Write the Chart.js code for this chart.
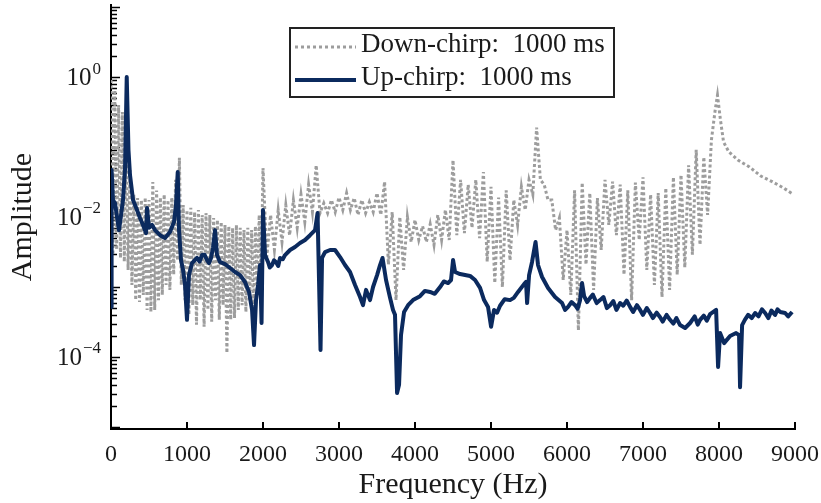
<!DOCTYPE html>
<html>
<head>
<meta charset="utf-8">
<script src="https://cdn.jsdelivr.net/npm/chart.js@4.4.1/dist/chart.umd.min.js"></script>
<style>
  html, body { margin: 0; padding: 0; background: #fff; }
  #wrap { width: 821px; height: 503px; }
</style>
</head>
<body>
<div id="wrap"><canvas id="myChart"></canvas></div>
<script>
// frequency in Hz, amplitude on a log axis
const seriesNames = ["Down-chirp:  1000 ms", "Up-chirp:  1000 ms"];
const xTicks = [0, 1000, 2000, 3000, 4000, 5000, 6000, 7000, 8000, 9000];
const yLabelExps = [0, -2, -4];

const downFreq = [
  0, 25, 50, 75, 100, 125, 150, 175, 200, 225,
  250, 275, 300, 325, 350, 375, 400, 425, 450, 475,
  500, 525, 550, 575, 600, 625, 650, 675, 700, 725,
  750, 775, 800, 825, 850, 875, 900, 925, 950, 975,
  1000, 1025, 1050, 1075, 1100, 1125, 1150, 1175, 1200, 1225,
  1250, 1275, 1300, 1325, 1350, 1375, 1400, 1425, 1450, 1475,
  1500, 1525, 1550, 1575, 1600, 1625, 1650, 1675, 1700, 1725,
  1750, 1775, 1800, 1825, 1850, 1875, 1900, 1925, 1950, 1975,
  2000, 2050, 2100, 2150, 2200, 2250, 2300, 2350, 2400, 2450,
  2500, 2550, 2600, 2650, 2700, 2750, 2800, 2850, 2900, 2950,
  3000, 3050, 3100, 3150, 3200, 3250, 3300, 3350, 3400, 3450,
  3500, 3550, 3600, 3650, 3700, 3750, 3800, 3850, 3900, 3950,
  4000, 4050, 4100, 4150, 4200, 4250, 4300, 4350, 4400, 4450,
  4500, 4550, 4600, 4650, 4700, 4750, 4800, 4850, 4900, 4950,
  5000, 5050, 5100, 5150, 5200, 5250, 5300, 5350, 5400, 5450,
  5500, 5550, 5600, 5650, 5700, 5750, 5800, 5850, 5900, 5950,
  6000, 6050, 6100, 6150, 6200, 6250, 6300, 6350, 6400, 6450,
  6500, 6550, 6600, 6650, 6700, 6750, 6800, 6850, 6900, 6950,
  7000, 7050, 7100, 7150, 7200, 7250, 7300, 7350, 7400, 7450,
  7500, 7550, 7600, 7650, 7700, 7750, 7800, 7850, 7900,
  7950, 7980, 8020, 8060, 8130, 8250, 8400, 8550, 8700, 8850, 8980
];
const downAmp = [
  0.91, 0.0029, 0.65, 0.0034, 0.40, 0.0026, 0.316, 0.0023, 0.175, 0.00175,
  0.047, 0.00107, 0.021, 0.00065, 0.0187, 0.00061, 0.0175, 0.00077, 0.019, 0.00047,
  0.0175, 0.00044, 0.0316, 0.00047, 0.024, 0.00065, 0.019, 0.00077, 0.021, 0.00107,
  0.0175, 0.00091, 0.019, 0.0015, 0.034, 0.0024, 0.070, 0.00107, 0.0148, 0.00065,
  0.0126, 0.00040, 0.0135, 0.00055, 0.0118, 0.00029, 0.0126, 0.00065, 0.0107, 0.00027,
  0.0114, 0.00047, 0.0107, 0.00032, 0.0097, 0.00065, 0.0091, 0.00034, 0.0085, 0.00055,
  0.0077, 0.000114, 0.0074, 0.00034, 0.0070, 0.00036, 0.0077, 0.00047, 0.0070, 0.00055,
  0.0065, 0.00044, 0.0070, 0.00065, 0.0065, 0.00047, 0.0074, 0.00077, 0.0107, 0.00126,
  0.050, 0.0027, 0.0107, 0.0034, 0.0126, 0.0044, 0.0148, 0.0055, 0.0175, 0.0070,
  0.021, 0.0085, 0.029, 0.0118, 0.055, 0.0114, 0.0158, 0.0114, 0.0175, 0.0118,
  0.019, 0.0126, 0.022, 0.0126, 0.0187, 0.0107, 0.0175, 0.0114, 0.0164, 0.0118,
  0.022, 0.0107, 0.032, 0.0021, 0.0118, 0.00065, 0.0100, 0.00175, 0.0100, 0.0044,
  0.0091, 0.0047, 0.0074, 0.0044, 0.0079, 0.0040, 0.0107, 0.0047, 0.0126, 0.0047,
  0.065, 0.0055, 0.034, 0.0059, 0.029, 0.0070, 0.034, 0.0050, 0.044, 0.0023,
  0.027, 0.00114, 0.019, 0.0010, 0.024, 0.0024, 0.0175, 0.0077, 0.027, 0.0126,
  0.034, 0.021, 0.19, 0.034, 0.029, 0.0175, 0.0175, 0.0065, 0.0097, 0.00126,
  0.0065, 0.00077, 0.024, 0.00024, 0.031, 0.0021, 0.022, 0.00091, 0.0187, 0.0034,
  0.034, 0.0077, 0.032, 0.0055, 0.029, 0.0015, 0.024, 0.00065, 0.031, 0.0047,
  0.037, 0.00175, 0.021, 0.00107, 0.022, 0.00072, 0.026, 0.00091, 0.037, 0.0015,
  0.040, 0.0019, 0.055, 0.0029, 0.091, 0.0040, 0.072, 0.0107, 0.126,
  0.34, 0.55, 0.24, 0.118, 0.085, 0.065, 0.052, 0.0385, 0.032, 0.026, 0.021
];

const upFreq = [
  0, 8, 26, 53, 79, 105, 132, 158, 184, 207,
  230, 250, 290, 342, 382, 421, 461, 474, 500, 540,
  579, 645, 711, 776, 829, 855, 878, 895, 921, 948,
  974, 1000, 1026, 1066, 1132, 1198, 1263, 1316, 1342, 1369,
  1395, 1434, 1500, 1566, 1632, 1698, 1763, 1816, 1856, 1882,
  1908, 1935, 1961, 1981, 2000, 2027, 2066, 2119, 2171, 2224,
  2290, 2356, 2421, 2487, 2553, 2619, 2685, 2718, 2757, 2777,
  2816, 2882, 2948, 3014, 3079, 3145, 3211, 3277, 3316, 3356,
  3408, 3448, 3501, 3540, 3573, 3619, 3672, 3711, 3737, 3764,
  3790, 3816, 3856, 3909, 3974, 4066, 4198, 4330, 4435, 4474,
  4501, 4527, 4593, 4724, 4790, 4856, 4909, 4961, 5001, 5040,
  5119, 5251, 5356, 5435, 5461, 5475, 5501, 5540, 5586, 5619,
  5672, 5751, 5843, 5935, 6014, 6106, 6172, 6198, 6225, 6304,
  6435, 6567, 6699, 6830, 6962, 7093, 7225, 7356, 7488, 7554,
  7620, 7751, 7883, 7962, 7988, 8014, 8067, 8146, 8225, 8264,
  8277, 8304, 8383, 8475, 8607, 8738, 8804, 8870, 8962
];
const upAmp = [
  5.2e-4, 0.047, 0.0175, 0.0158, 0.010, 6.5e-3, 0.0107, 0.0175, 0.047, 1.0,
  0.0906, 0.0398, 0.0175, 0.0126, 0.0097, 7.7e-3, 5.9e-3, 0.0135, 7.0e-3, 7.7e-3,
  6.5e-3, 5.5e-3, 5.0e-3, 6.1e-3, 8.5e-3, 0.0148, 0.044, 6.5e-3, 2.43e-3, 1.75e-3,
  1.07e-3, 3.4e-4, 1.48e-3, 2.2e-3, 2.6e-3, 2.86e-3, 2.43e-3, 2.6e-3, 3.6e-3, 6.5e-3,
  2.86e-3, 2.28e-3, 2.13e-3, 1.87e-3, 1.64e-3, 1.48e-3, 1.18e-3, 8.5e-4, 4.7e-4, 1.48e-4,
  6.5e-4, 1.07e-3, 2.06e-3, 3.06e-4, 0.0126, 2.86e-3, 2.28e-3, 2.06e-3, 2.28e-3, 2.6e-3,
  2.86e-3, 3.38e-3, 3.73e-3, 4.25e-3, 4.7e-3, 5.5e-3, 6.5e-3, 0.0114, 1.26e-4, 2.6e-3,
  3.16e-3, 3.38e-3, 3.38e-3, 2.68e-3, 2.06e-3, 1.64e-3, 1.07e-3, 7.2e-4, 5.5e-4, 9.1e-4,
  6.5e-4, 1.0e-3, 1.48e-3, 2.06e-3, 2.6e-3, 1.26e-3, 7.0e-4, 4.7e-4, 4.0e-4, 3.06e-5,
  4.0e-5, 2.06e-4, 4.4e-4, 5.5e-4, 6.5e-4, 7.4e-4, 8.5e-4, 1.0e-3, 1.14e-3, 1.26e-3,
  2.43e-3, 1.64e-3, 1.53e-3, 1.44e-3, 1.26e-3, 9.7e-4, 6.5e-4, 5.2e-4, 2.7e-4, 4.7e-4,
  5.4e-4, 6.5e-4, 8.5e-4, 1.1e-3, 1.18e-3, 5.9e-4, 1.48e-3, 2.28e-3, 4.4e-3, 2.06e-3,
  1.39e-3, 9.7e-4, 7.2e-4, 5.9e-4, 5.2e-4, 5.5e-4, 6.5e-4, 1.14e-3, 7.4e-4, 7.0e-4,
  6.5e-4, 5.5e-4, 5.9e-4, 5.2e-4, 4.7e-4, 4.25e-4, 3.7e-4, 3.4e-4, 2.86e-4, 2.6e-4,
  3.06e-4, 3.4e-4, 4.1e-4, 4.7e-4, 7.2e-5, 2.2e-4, 1.58e-4, 2.0e-4, 2.2e-4, 2.06e-4,
  3.7e-5, 2.86e-4, 4.0e-4, 4.25e-4, 4.25e-4, 4.0e-4, 4.4e-4, 4.25e-4, 4.4e-4
];
// extra wiggles of the up-chirp trace (the fuzzy band)
const upJitterFreq = [
  1165, 1230, 1290, 2090, 2145, 2200, 2260, 4130, 4260, 4380,
  5080, 5180, 5300, 5975, 6060, 6140, 6265, 6340, 6390, 6480,
  6525, 6610, 6650, 6740, 6785, 6870, 6920, 7000, 7050, 7130,
  7180, 7260, 7310, 7400, 7440, 7680, 7720, 7800, 7840, 8340,
  8430, 8520, 8565, 8650, 8690, 8770, 8910
];
const upJitterAmp = [
  2.3e-3, 2.9e-3, 2.2e-3, 1.9e-3, 2.4e-3, 2.0e-3, 2.5e-3, 8.8e-4, 8.0e-4, 1.2e-3,
  4.3e-4, 6.7e-4, 7.0e-4, 4.7e-4, 6.1e-4, 4.9e-4, 6.1e-4, 7.8e-4, 5.9e-4, 7.2e-4,
  5.0e-4, 6.3e-4, 4.7e-4, 5.4e-4, 6.4e-4, 4.4e-4, 5.5e-4, 4.0e-4, 5.0e-4, 3.6e-4,
  4.3e-4, 3.2e-4, 4.0e-4, 3.0e-4, 3.6e-4, 3.8e-4, 2.9e-4, 3.9e-4, 3.3e-4, 3.4e-4,
  3.6e-4, 3.8e-4, 4.8e-4, 3.6e-4, 4.6e-4, 4.8e-4, 3.8e-4
];

const serif = '"Liberation Serif", "Times New Roman", serif';
const textColor = "#1a1a1a";
const grayColor = "#9d9d9d";
const navyColor = "#0b2a5e";

function toPoints(xs, ys) {
  return xs.map((x, i) => ({ x: x, y: ys[i] }));
}

const upPoints = toPoints(upFreq, upAmp)
  .concat(toPoints(upJitterFreq, upJitterAmp))
  .sort((a, b) => a.x - b.x);

// inward tick marks, like the original axes
const axisMarks = {
  id: "axisMarks",
  beforeDatasetsDraw(chart) {
    const ctx = chart.ctx;
    const xs = chart.scales.x, ys = chart.scales.y;
    const area = chart.chartArea;
    ctx.save();
    ctx.strokeStyle = "#000";
    ctx.lineWidth = 1.5;
    for (let d = -6; d <= 1; d++) {
      for (let k = 1; k <= 9; k++) {
        const v = k * Math.pow(10, d);
        if (v < ys.min || v > ys.max) continue;
        const py = Math.round(ys.getPixelForValue(v)) + 0.5;
        ctx.beginPath();
        ctx.moveTo(area.left, py);
        ctx.lineTo(area.left + (k === 1 ? 9 : 6), py);
        ctx.stroke();
      }
    }
    ctx.lineWidth = 2;
    xTicks.forEach(v => {
      const px = xs.getPixelForValue(v);
      ctx.beginPath();
      ctx.moveTo(px, area.bottom);
      ctx.lineTo(px, area.bottom - 7);
      ctx.stroke();
    });
    ctx.restore();
  },
  afterDraw(chart) {
    const ctx = chart.ctx;
    const ys = chart.scales.y;
    const area = chart.chartArea;
    ctx.save();
    ctx.fillStyle = textColor;
    ctx.textBaseline = "middle";
    yLabelExps.forEach(e => {
      const py = ys.getPixelForValue(Math.pow(10, e));
      const expTxt = e === 0 ? "0" : "\u2212" + (-e);
      ctx.font = "17px " + serif;
      const w = ctx.measureText(expTxt).width;
      const right = area.left - 10;
      ctx.textAlign = "left";
      ctx.fillText(expTxt, right - w, py - 8);
      ctx.font = "25px " + serif;
      ctx.textAlign = "right";
      ctx.fillText("10", right - w - 1, py + 1);
    });

    // legend box
    const bx = 290, by = 28, bw = 324, bh = 69;
    ctx.fillStyle = "#fff";
    ctx.fillRect(bx, by, bw, bh);
    ctx.strokeStyle = "#222";
    ctx.lineWidth = 2;
    ctx.strokeRect(bx, by, bw, bh);

    const rows = [
      { y: by + 17, color: grayColor, dash: [3, 3], width: 3 },
      { y: by + 50, color: navyColor, dash: [], width: 4 }
    ];
    rows.forEach((r, i) => {
      ctx.beginPath();
      ctx.setLineDash(r.dash);
      ctx.strokeStyle = r.color;
      ctx.lineWidth = r.width;
      ctx.moveTo(bx + 5, r.y + 2);
      ctx.lineTo(bx + 66, r.y + 2);
      ctx.stroke();
      ctx.setLineDash([]);
      ctx.fillStyle = textColor;
      ctx.font = "27px " + serif;
      ctx.textAlign = "left";
      ctx.textBaseline = "middle";
      ctx.fillText(seriesNames[i], bx + 71, r.y);
    });
    ctx.restore();
  }
};

let ctx = document.getElementById("myChart");

let chart = new Chart(ctx, {
  type: "line",
  data: {
    datasets: [
      {
        label: seriesNames[1],
        data: upPoints,
        borderColor: navyColor,
        borderWidth: 4,
        pointRadius: 0,
        tension: 0,
        borderJoinStyle: "round",
      },
      {
        label: seriesNames[0],
        data: toPoints(downFreq, downAmp),
        borderColor: grayColor,
        borderWidth: 3,
        borderDash: [3, 2.5],
        pointRadius: 0,
        tension: 0,
      },
    ],
  },
  options: {
    responsive: true,
    maintainAspectRatio: false,
    animation: false,
    layout: { padding: { top: 5, right: 26, left: 0, bottom: 0 } },
    plugins: { legend: { display: false }, tooltip: { enabled: false } },
    scales: {
      x: {
        type: "linear",
        min: 0,
        max: 9000,
        afterFit: (s) => { s.height = 74; s.paddingRight = 0; s.paddingLeft = 0; },
        afterBuildTicks: (s) => { s.ticks = xTicks.map(v => ({ value: v })); },
        grid: { display: false, drawTicks: false },
        border: { display: true, color: "#000", width: 2 },
        ticks: {
          font: { family: serif, size: 24 },
          color: textColor,
          padding: 11,
          maxRotation: 0,
          autoSkip: false,
          callback: (v) => String(v),
        },
        title: {
          display: true,
          text: "Frequency (Hz)",
          font: { family: serif, size: 30 },
          color: textColor,
          padding: { top: 0, bottom: 0 },
        },
      },
      y: {
        type: "logarithmic",
        min: 9.36e-6,
        max: 10.7,
        afterFit: (s) => { s.width = 111; },
        grid: { display: false, drawTicks: false },
        border: { display: true, color: "#000", width: 2 },
        ticks: { display: false },
        title: {
          display: true,
          text: "Amplitude",
          font: { family: serif, size: 30 },
          color: textColor,
          padding: { top: 5, bottom: 0 },
        },
      },
    },
  },
  plugins: [axisMarks],
});
</script>
</body>
</html>
